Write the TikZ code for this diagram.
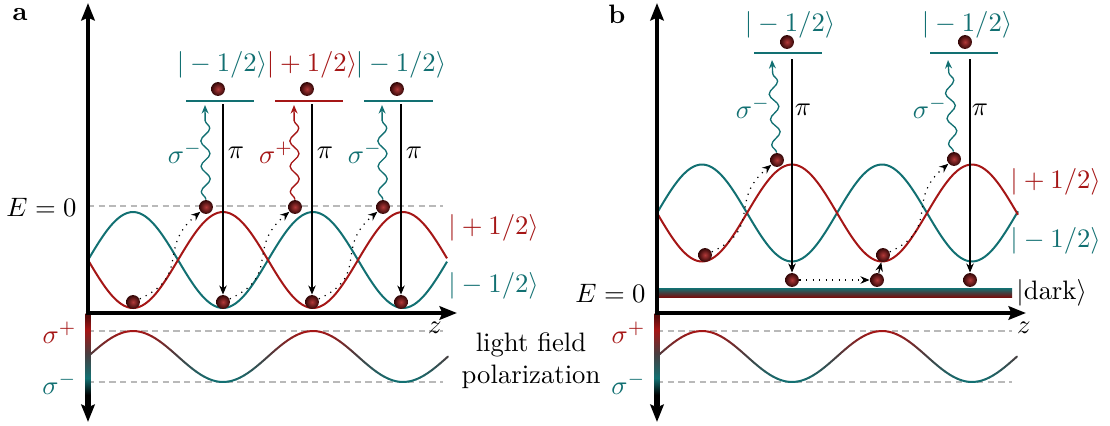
\documentclass[tikz,border=0pt]{standalone}
\usepackage{tikz}
\usepackage{amsmath}
\usepackage{xcolor}
\usetikzlibrary{arrows.meta, positioning, decorations.pathmorphing, shadings}
\definecolor{plusred}{RGB}{165,22,22}
\definecolor{minusteal}{RGB}{18,112,114}
\definecolor{polmid}{RGB}{72,62,64}
\definecolor{guidegrey}{RGB}{185,185,185}
\pgfdeclareverticalshading{fieldaxis}{100bp}{color(0bp)=(black); color(25bp)=(black);
  color(31bp)=(black); color(40bp)=(minusteal); color(53bp)=(polmid);
  color(66bp)=(plusred); color(73bp)=(plusred!55!black); color(100bp)=(plusred!55!black)}
% common axes, guides and light field curve of one panel
\newcommand{\fieldaxes}[2]{%
  \draw[guide] (88,331) -- (443,331);
  \draw[guide] (88,382) -- (443,382);
  \foreach \i in {0,...,89}{%
    \pgfmathsetmacro\polXa{88+4*\i}
    \pgfmathsetmacro\polXb{\polXa+4}
    \pgfmathsetmacro\polS{sin(2*(\polXa+2-88))}
    \pgfmathtruncatemacro\polP{100*abs(\polS)}
    \ifdim\polS pt<0pt\def\polC{minusteal}\else\def\polC{plusred}\fi
    \draw[draw={\polC!\polP!polmid}, line width=0.75pt, line cap=round]
      (\polXa,{356.5-25.5*sin(2*(\polXa-88))}) -- (\polXb,{356.5-25.5*sin(2*(\polXb-88))});
  }
  \shade[shading=fieldaxis] (85.6,313) rectangle (90.4,406);
  \draw[axisline] (88,404) -- (88,422);
  \draw[axisline] (88,315) -- (88,3);
  \draw[axisline] (85.6,313) -- (457,313);
  \node[plusred, anchor=east] (#1sp) at (86,333) {$\sigma^+$};
  \node[minusteal, anchor=east] (#1sm) at (86,384) {$\sigma^-$};
  \node (#1z) at (#2,328) {$z$};
}

\begin{document}
\begin{tikzpicture}[x=0.375pt, y=-0.375pt,
    atom/.style={circle, inner sep=0pt, minimum size=5.2pt, shading=radial,
                 inner color=plusred!85!white, outer color=plusred!30!black},
    axisline/.style={line width=1.8pt, -{Stealth[length=6.5pt, width=5pt, inset=1pt]}},
    curve/.style={line width=0.75pt},
    lvl/.style={line width=0.6pt},
    guide/.style={guidegrey, line width=0.6pt, dash pattern=on 2.4pt off 1.6pt},
    ar/.style={-{Stealth[length=3.4pt, width=2.8pt]}, line width=0.45pt},
    dotar/.style={ar, dotted},
    hop/.style={out=25, in=-140, looseness=1.4},
    wavy/.style={-{Stealth[length=3.2pt, width=2.6pt]}, line width=0.5pt, decorate,
                 decoration={snake, amplitude=1.7pt, segment length=9.5pt, post length=3pt}}
  ]
  \useasboundingbox (0,0) rectangle (1110,425);

  % panel a
  \node[font=\bfseries, anchor=base] (lbla) at (20,20) {a};
  \draw[guide] (88,206) -- (443,206);
  \node[anchor=east] (ea) at (86,207) {$E=0$};
  \draw[curve, minusteal] plot[domain=88:447, samples=120, smooth] (\x, {260-48*sin(2*(\x-88))});
  \draw[curve, plusred] plot[domain=88:447, samples=120, smooth] (\x, {260+48*sin(2*(\x-88))});
  \draw[lvl, minusteal] (186,101) -- (254,101);
  \draw[lvl, plusred] (275,101) -- (343,101);
  \draw[lvl, minusteal] (364,101) -- (433,101);
  \node[minusteal] (ka1) at (222,65) {$|-1/2\rangle$};
  \node[plusred] (ka2) at (312,65) {$|+1/2\rangle$};
  \node[minusteal] (ka3) at (401,65) {$|-1/2\rangle$};
  \node[plusred, anchor=west] (kap) at (439,228) {$|+1/2\rangle$};
  \node[minusteal, anchor=west] (kam) at (439,286) {$|-1/2\rangle$};
  \node[align=center] (lf) at (531,361) {light field\\polarization};
  \node[atom] (ta1) at (218,89) {};
  \node[atom] (ta2) at (307,89) {};
  \node[atom] (ta3) at (397,89) {};
  \node[atom] (ua1) at (206,207) {};
  \node[atom] (ua2) at (295,207) {};
  \node[atom] (ua3) at (383,207) {};
  \node[atom] (ba1) at (133,302) {};
  \node[atom] (ba2) at (223,302) {};
  \node[atom] (ba3) at (312,302) {};
  \node[atom] (ba4) at (401,302) {};
  \coordinate (wa1) at (205,105); \coordinate (wa2) at (294,105); \coordinate (wa3) at (382,105);
  \coordinate (pa1) at (223,104); \coordinate (pa2) at (312,104); \coordinate (pa3) at (401,104);
  \draw[wavy, minusteal] (ua1) -- (wa1); \draw[wavy, plusred] (ua2) -- (wa2);
  \draw[wavy, minusteal] (ua3) -- (wa3);
  \draw[ar] (pa1) -- (ba2); \draw[ar] (pa2) -- (ba3); \draw[ar] (pa3) -- (ba4);
  \draw[dotar] (ba1) to[hop] (ua1);
  \draw[dotar] (ba2) to[hop] (ua2);
  \draw[dotar] (ba3) to[hop] (ua3);
  \node[minusteal] (sa1) at (185,153) {$\sigma^-$};
  \node[plusred] (sa2) at (276,153) {$\sigma^+$};
  \node[minusteal] (sa3) at (365,153) {$\sigma^-$};
  \node (pia1) at (236,153) {$\pi$};
  \node (pia2) at (325,153) {$\pi$};
  \node (pia3) at (414,153) {$\pi$};
  \fieldaxes{a}{435}

  % panel b
  \begin{scope}[shift={(569,0)}]
    \node[font=\bfseries, anchor=base] (lblb) at (48,23) {b};
    \shade[top color=minusteal, middle color=black, bottom color=plusred!70!black]
      (88,288) rectangle (443,297);
    \node[anchor=east] (eb) at (86,293) {$E=0$};
    \node[anchor=west] (kdark) at (438,293) {$|\mathrm{dark}\rangle$};
    \draw[curve, minusteal] plot[domain=88:449, samples=120, smooth] (\x, {213-48.5*sin(2*(\x-88))});
    \draw[curve, plusred] plot[domain=88:449, samples=120, smooth] (\x, {213+48.5*sin(2*(\x-88))});
    \draw[lvl, minusteal] (185,53) -- (253,53);
    \draw[lvl, minusteal] (361,53) -- (429,53);
    \node[minusteal] (kb1) at (221,25) {$|-1/2\rangle$};
    \node[minusteal] (kb2) at (398,25) {$|-1/2\rangle$};
    \node[plusred, anchor=west] (kbp) at (432,182) {$|+1/2\rangle$};
    \node[minusteal, anchor=west] (kbm) at (432,241) {$|-1/2\rangle$};
    \node[atom] (tb1) at (218,42) {};
    \node[atom] (tb2) at (396,42) {};
    \node[atom] (ub1) at (208,160) {};
    \node[atom] (ub2) at (385,159) {};
    \node[atom] (lb1) at (136,255) {};
    \node[atom] (lb2) at (314,255) {};
    \node[atom] (db1) at (223,280) {};
    \node[atom] (db2) at (308,280) {};
    \node[atom] (db3) at (401,280) {};
    \coordinate (wb1) at (203,60); \coordinate (wb2) at (379,60);
    \coordinate (pb1) at (223,59); \coordinate (pb2) at (401,59);
    \draw[wavy, minusteal] (ub1) -- (wb1); \draw[wavy, minusteal] (ub2) -- (wb2);
    \draw[ar] (pb1) -- (db1); \draw[ar] (pb2) -- (db3);
    \draw[dotar] (lb1) to[hop] (ub1);
    \draw[dotar] (lb2) to[hop] (ub2);
    \draw[dotar] (db1) -- (db2);
    \draw[ar] (db2) -- (lb2);
    \node[minusteal] (sb1) at (184,108) {$\sigma^-$};
    \node[minusteal] (sb2) at (361,108) {$\sigma^-$};
    \node (pib1) at (234,110) {$\pi$};
    \node (pib2) at (411,110) {$\pi$};
    \fieldaxes{b}{455}
  \end{scope}
\end{tikzpicture}
\end{document}
